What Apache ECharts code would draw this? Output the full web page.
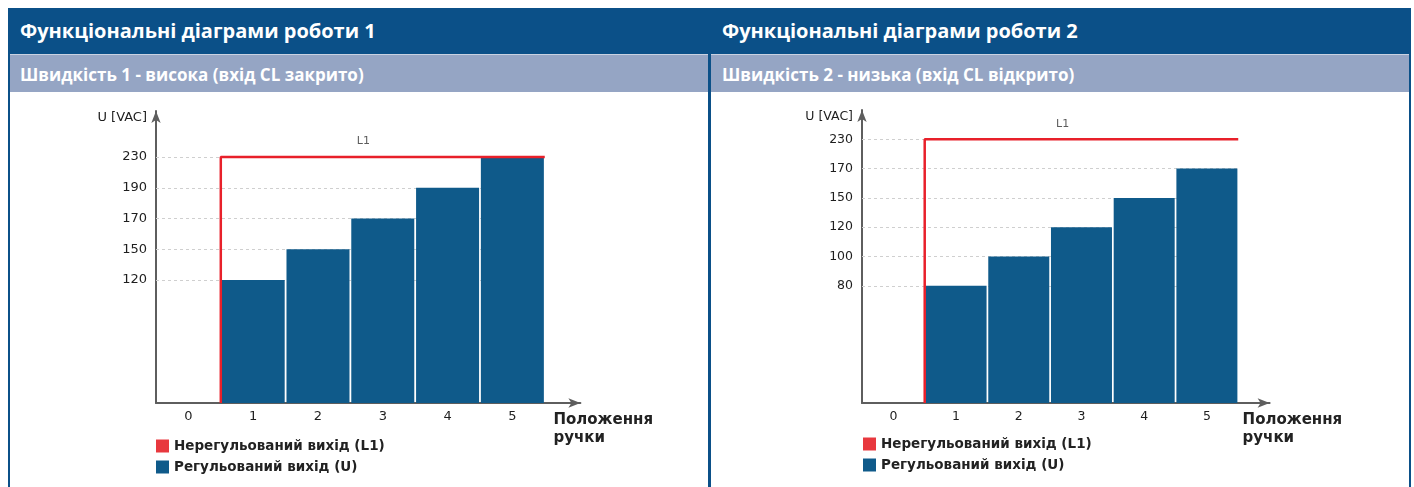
<!DOCTYPE html>
<html>
<head>
<meta charset="utf-8">
<script src="https://cdn.jsdelivr.net/npm/echarts@6/dist/echarts.min.js"></script>
<style>
  html, body { margin: 0; padding: 0; background: #fff; }
  #page { position: relative; width: 1414px; height: 487px; overflow: hidden; }
  .band { position: absolute; }
  .title { position: absolute; color: #fff; font-family: "Open Sans", sans-serif; font-weight: bold; white-space: nowrap; }
  #chart { position: absolute; left: 0; top: 0; width: 1414px; height: 487px; }
</style>
</head>
<body>
<div id="page">
  <div class="band" style="left:8px;top:8px;width:1403px;height:46px;background:#0b5088"></div>
  <div class="band" style="left:8px;top:54px;width:1403px;height:1px;background:#c9d2e2"></div>
  <div class="band" style="left:8px;top:55px;width:1403px;height:37px;background:#95a5c4"></div>
  <div class="band" style="left:8px;top:54px;width:2px;height:433px;background:#0b5088"></div>
  <div class="band" style="left:708px;top:54px;width:3px;height:433px;background:#0b5088"></div>
  <div class="band" style="left:1409px;top:54px;width:2px;height:433px;background:#0b5088"></div>
  <div class="title" style="left:20px;top:17px;font-size:20px;line-height:28px">Функціональні діаграми роботи 1</div>
  <div class="title" style="left:722px;top:17px;font-size:20px;line-height:28px">Функціональні діаграми роботи 2</div>
  <div class="title" style="left:20px;top:63px;font-size:17px;line-height:24px">Швидкість 1 - висока (вхід CL закрито)</div>
  <div class="title" style="left:722px;top:63px;font-size:17px;line-height:24px">Швидкість 2 - низька (вхід CL відкрито)</div>
  <div id="chart"></div>
</div>
<script>
// positions of the knob (x axis)
var positions = ['0', '1', '2', '3', '4', '5'];
var legendNames = ['Нерегульований вихід (L1)', 'Регульований вихід (U)'];

// diagram 1
var p1Ticks = [120, 150, 170, 190, 230];
var p1Regulated = [120, 150, 170, 190, 230];   // positions 1..5
var p1Unregulated = 230;

// diagram 2
var p2Ticks = [80, 100, 120, 150, 170, 230];
var p2Regulated = [80, 100, 120, 150, 170];    // positions 1..5
var p2Unregulated = 230;

// the voltage axis is schematic: each labelled value sits one step above the previous
var baseStep = 4;
function level(ticks, v) { return ticks.indexOf(v) + baseStep; }

var font = 'DejaVu Sans';
var red = '#e8202a';
var blue = '#0f5a8a';

function makeAxes(idx, ticks, yMax, xMax, fs) {
    var tickLevels = ticks.map(function (t) { return level(ticks, t); });
    var xAxis = {
        type: 'value', gridIndex: idx, min: -0.5, max: xMax,
        axisLine: { onZero: false, symbol: ['none', 'arrow'], symbolSize: [7, 12], lineStyle: { color: '#5e5e5e', width: 2 } },
        axisTick: { show: false, customValues: positions.map(Number) },
        splitLine: { show: false },
        axisLabel: {
            customValues: positions.map(Number),
            formatter: function (v) { return positions[v]; },
            color: '#1e1e1e', fontFamily: font, fontSize: fs, margin: 7
        },
        name: 'Положення\nручки', nameLocation: 'end', nameGap: -27,
        nameTextStyle: { align: 'left', verticalAlign: 'top', padding: [8, 0, 0, 0], fontFamily: font, fontWeight: 'bold', fontSize: 15, lineHeight: 18, color: '#222' }
    };
    var yAxis = {
        type: 'value', gridIndex: idx, min: 0, max: yMax,
        axisLine: { show: true, onZero: false, symbol: ['none', 'arrow'], symbolSize: [7, 12], lineStyle: { color: '#5e5e5e', width: 2 } },
        axisTick: { show: false, customValues: tickLevels },
        splitLine: { show: false },
        axisLabel: {
            customValues: tickLevels,
            formatter: function (v) { return String(ticks[v - baseStep]); },
            color: '#1e1e1e', fontFamily: font, fontSize: fs, margin: 9
        },
        name: 'U [VAC]', nameLocation: 'end', nameGap: -7,
        nameTextStyle: { align: 'right', verticalAlign: 'middle', padding: [0, 9, 0, 0], fontFamily: font, fontSize: fs, color: '#1e1e1e' }
    };
    return { x: xAxis, y: yAxis, levels: tickLevels };
}

function makeSeries(idx, ticks, regulated, unregulated, barW, levels) {
    var top = level(ticks, unregulated);
    var first = Number(positions[1]) - 0.5;
    var last = Number(positions[positions.length - 1]) + 0.5;
    return [
        {   // dashed guide lines at labelled voltages, behind the bars
            type: 'line', xAxisIndex: idx, yAxisIndex: idx, data: [], z: 1, silent: true,
            markLine: {
                silent: true, symbol: 'none', label: { show: false }, z: 1,
                lineStyle: { type: [3, 3], color: '#cfcfcf', width: 1 },
                data: levels.map(function (l) { return [{ coord: [-0.5, l] }, { coord: [last, l] }]; })
            }
        },
        {
            name: legendNames[1], type: 'bar', xAxisIndex: idx, yAxisIndex: idx, z: 2,
            barWidth: barW, itemStyle: { color: blue },
            data: regulated.map(function (v, i) { return [Number(positions[i + 1]), level(ticks, v)]; })
        },
        {
            name: legendNames[0], type: 'line', xAxisIndex: idx, yAxisIndex: idx, z: 3,
            symbol: 'none', itemStyle: { color: red }, lineStyle: { color: red, width: 2.5 },
            data: [[first, 0], [first, top], [last, top]]
        },
        {
            type: 'scatter', xAxisIndex: idx, yAxisIndex: idx, z: 3, symbolSize: 0, silent: true,
            label: { show: true, position: 'top', distance: 10, formatter: 'L1', fontFamily: font, fontSize: 11, color: '#333' },
            data: [[2.7, top]]
        }
    ];
}

var a1 = makeAxes(0, p1Ticks, 9.5, 6.05, 13);
var a2 = makeAxes(1, p2Ticks, 10, 6.0, 12.5);

var legendBase = {
    orient: 'vertical', icon: 'rect', itemWidth: 13, itemHeight: 13, itemGap: 7, selectedMode: false,
    textStyle: { fontFamily: font, fontWeight: 'bold', fontSize: 13.5, color: '#222' },
    data: [{ name: legendNames[0], itemStyle: { color: '#e8383e' } }, { name: legendNames[1] }]
};

var chart = echarts.init(document.getElementById('chart'));
chart.setOption({
    animation: false,
    grid: [
        { left: 156, top: 111, width: 424.4, height: 292 },
        { left: 862, top: 110, width: 407.6, height: 293 }
    ],
    xAxis: [a1.x, a2.x],
    yAxis: [a1.y, a2.y],
    legend: [
        Object.assign({}, legendBase, { left: 151, top: 434 }),
        Object.assign({}, legendBase, { left: 858, top: 432 })
    ],
    series: makeSeries(0, p1Ticks, p1Regulated, p1Unregulated, 63, a1.levels)
        .concat(makeSeries(1, p2Ticks, p2Regulated, p2Unregulated, 61, a2.levels))
});
</script>
</body>
</html>
